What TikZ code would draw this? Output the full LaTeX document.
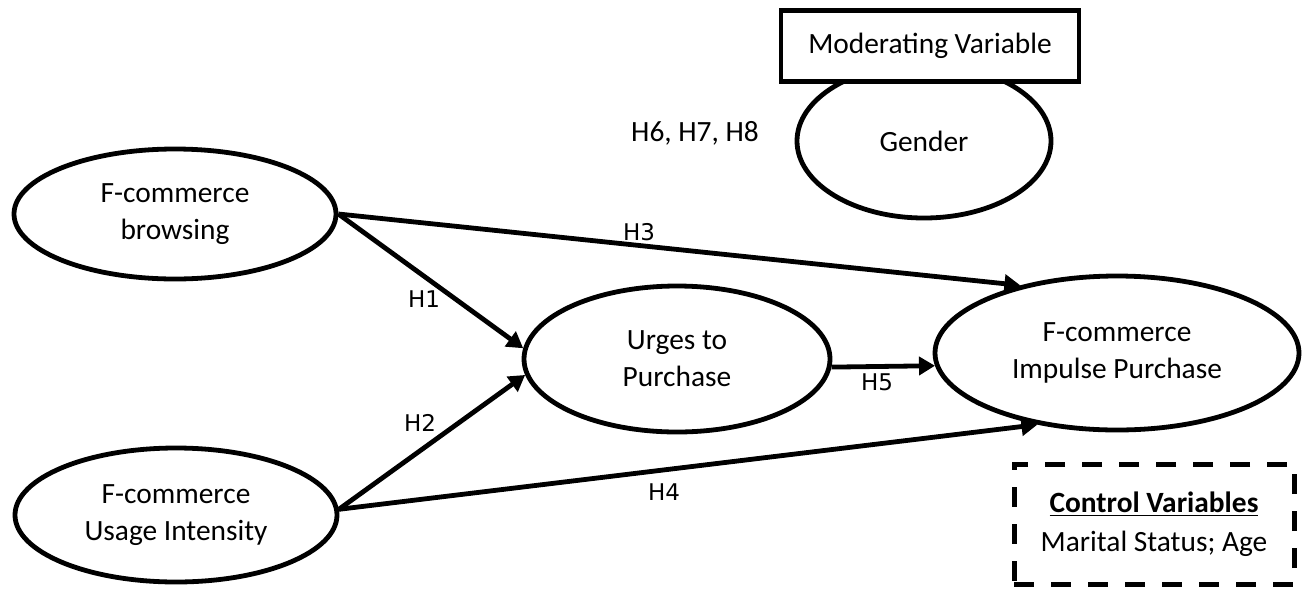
\documentclass[tikz,border=0pt]{standalone}
\usepackage{fontspec}
\setmainfont{Carlito}
\newfontfamily\hfont{DejaVu Sans}
\usetikzlibrary{shapes.geometric,arrows.meta}
\begin{document}
\begin{tikzpicture}[x=0.5pt,y=-0.5pt,
  construct/.style={draw,line width=2.4pt,ellipse,inner sep=0pt,align=center,
    font=\fontsize{14.7}{18.5}\selectfont},
  path/.style={line width=2.4pt,-{Triangle[length=8pt,width=9pt]}},
  hyp/.style={font=\hfont\fontsize{11.5}{14}\selectfont,inner sep=0pt},
  boxtext/.style={font=\fontsize{14.7}{18.5}\selectfont}]
\useasboundingbox (0,0) rectangle (1306,590);
% constructs
\node[construct,minimum width=161pt,minimum height=65pt] (brw) at (175,214) {F-commerce\\browsing};
\node[construct,minimum width=161pt,minimum height=67pt] (use) at (176,515) {F-commerce\\Usage Intensity};
\node[construct,minimum width=153pt,minimum height=73pt] (urg) at (677,359) {Urges to\\Purchase};
\node[construct,minimum width=182pt,minimum height=77pt] (imp) at (1117,353) {F-commerce\\Impulse Purchase};
\node[construct,minimum width=127pt,minimum height=77pt] (gen) at (924,141) {Gender};
% moderating box
\node[draw,line width=2.4pt,fill=white,boxtext,minimum width=149pt,minimum height=35.5pt,inner sep=0pt] (mod) at (930,46) {Moderating Variable};
% control box
\node[draw,line width=2.5pt,dash pattern=on 10pt off 8.5pt,boxtext,minimum width=140pt,minimum height=60pt,align=center,inner sep=0pt] (ctl) at (1154,524) {\underline{\textbf{Control Variables}}\\[1pt]Marital Status; Age};
% paths
\draw[path] (brw.east) -- (urg.176);
\draw[path] (use.2.5) -- (urg.186);
\draw[path] (brw.east) -- (imp.145);
\draw[path] (use.2.5) -- (imp.222.5);
\draw[path] (urg.-3) -- (imp.184.4);
% labels
\node[hyp] (h1) at (424,299) {H1};
\node[hyp] (h2) at (420,423) {H2};
\node[hyp] (h3) at (639,232) {H3};
\node[hyp] (h4) at (664,492) {H4};
\node[hyp] (h5) at (877,382) {H5};
\node[boxtext,inner sep=0pt] (h678) at (695,133) {H6, H7, H8};
\end{tikzpicture}
\end{document}
